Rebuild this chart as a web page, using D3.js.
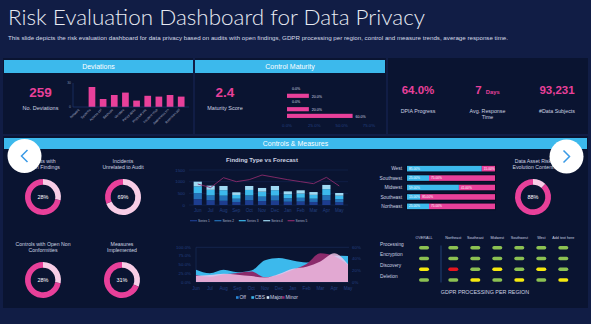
<!DOCTYPE html>
<html>
<head>
<meta charset="utf-8">
<title>Risk Evaluation Dashboard for Data Privacy</title>
<script src="https://cdnjs.cloudflare.com/ajax/libs/d3/7.8.5/d3.min.js"></script>
<style>
  body { margin: 0; background: #111d45; }
  svg { display: block; font-family: "Liberation Sans", Arial, sans-serif; }
</style>
</head>
<body>
<svg id="dash" width="591" height="324"></svg>
<script>
// ---- data ----
var deviationCats = ["Network", "Systems", "Access ctrl", "Backups", "Vendors", "Policy docs", "Physical sec", "Incident resp", "Awareness trn", "Retention pol"];
var deviationVals = [0, 25, 10, 15, 18, 8, 14, 13, 15, 13];
var deviationTicks = [0, 30];

var maturityVals = [0, 20, 0, 20, 60];
var maturityTicks = [0, 25, 50, 75];

var kpiValues = ["64.0%", "7", "93,231"];
var kpiUnits = ["", "Days", ""];
var kpiLabels = [["DPIA Progress"], ["Avg. Response", "Time"], ["#Data Subjects"]];

var months = ["Jun", "Jul", "Aug", "Sep", "Oct", "Nov", "Dec", "Jan", "Feb", "Mar", "Apr", "May"];
var series1 = [250, 200, 180, 130, 200, 170, 190, 140, 150, 130, 200, 120];
var series2 = [260, 210, 220, 140, 210, 190, 210, 150, 160, 140, 220, 130];
var series3 = [290, 240, 235, 160, 235, 210, 235, 170, 180, 165, 260, 150];
var series4 = [200, 180, 180, 115, 170, 160, 180, 125, 140, 120, 180, 115];
var forecast = [900, 745, 1170, 1000, 1085, 1285, 1185, 1085, 1000, 915, 1185, 815];
var findingTicks = [0, 500, 1000, 1500];

var areaOff = [10, 8, 12, 10, 12, 30, 35, 30, 28, 30, 40, 35];
var areaCBS = [35, 25, 35, 28, 33, 63, 69, 62, 56, 65, 76, 75];
var areaMinor = [20, 15, 22, 26, 30, 14, 20, 35, 52, 83, 75, 50];
var areaMajor = [18, 20, 24, 21, 17, 13, 23, 38, 44, 59, 83, 51];
var areaTicks = [0, 25, 50, 75, 100];
var areaRightTicks = [0, 20, 40, 60];

var regions = ["West", "Southwest", "Midwest", "Southeast", "Northeast"];
var regionShare = [85, 25, 59, 15, 25];

var gdprCols = ["OVERALL", "Northeast", "Southeast", "Midwest", "Southwest", "West", "Add text here"];
var gdprRows = ["Processing", "Encryption", "Discovery", "Deletion"];
var gdprStatus = [
  ["g", "g", "g", "g", "g", "g", "g"],
  ["g", "g", "g", "g", "g", "g", "g"],
  ["y", "r", "g", "y", "g", "y", "g"],
  ["g", "g", "y", "g", "y", "g", "y"]
];

var donutLabels = [["Audits with", "Open Findings"], ["Incidents", "Unrelated to Audit"],
  ["Controls with Open Non", "Conformities"], ["Measures", "Implemented"],
  ["Data Asset Risk", "Evolution Content"]];
var donutValues = [28, 69, 28, 31, 88];
var donutLightIsValue = [true, true, true, true, false];

// ---- colours ----
var pink = "#e8409a", lightPink = "#f8cde6", cyan = "#3cb9ec";
var panelFill = "#0a1431", textGrey = "#cdd3e1", dimBlue = "#223f80";
var barColors = ["#1d3d8f", "#2371b8", "#3cb9ec", "#9fdaf3"];
var statusColors = { g: "#8cc152", y: "#f5e90f", r: "#e5161f" };

var svg = d3.select("#dash");

// title
svg.append("text").attr("x", 8).attr("y", 25)
  .attr("font-family", "Lato, sans-serif").attr("font-weight", 300)
  .attr("font-size", 22).attr("fill", "#e8ebf3")
  .attr("textLength", 417).attr("lengthAdjust", "spacingAndGlyphs")
  .text("Risk Evaluation Dashboard for Data Privacy");
svg.append("text").attr("x", 8).attr("y", 40)
  .attr("font-size", 5.4).attr("fill", "#d6dbe8")
  .attr("textLength", 500).attr("lengthAdjust", "spacingAndGlyphs")
  .text("This slide depicts the risk evaluation  dashboard for data privacy based on audits with open findings, GDPR processing per region, control and measure trends, average  response time.");

// panels
function panel(x, y, w, h) {
  svg.append("rect").attr("x", x).attr("y", y).attr("width", w).attr("height", h).attr("fill", panelFill);
}
function header(x, y, w, h, label) {
  svg.append("rect").attr("x", x).attr("y", y).attr("width", w).attr("height", h).attr("fill", cyan);
  svg.append("text").attr("x", x + w / 2).attr("y", y + h / 2 + 2.4)
    .attr("text-anchor", "middle").attr("font-size", 7).attr("fill", "#fff").text(label);
}
panel(3, 58, 190, 76);
panel(195, 58, 191, 76);
panel(388, 58, 200, 76);
panel(3, 136, 585, 172);
header(4, 60, 189, 13, "Deviations");
header(195, 60, 190, 13, "Control Maturity");
header(4, 138, 583, 11, "Controls & Measures");

function bigNumber(x, y, txt, size) {
  return svg.append("text").attr("x", x).attr("y", y).attr("text-anchor", "middle")
    .attr("font-size", size).attr("font-weight", "bold").attr("fill", pink).text(txt);
}
function caption(x, y, lines, size) {
  lines.forEach(function (l, i) {
    svg.append("text").attr("x", x).attr("y", y + i * 6.2).attr("text-anchor", "middle")
      .attr("font-size", size || 5.5).attr("fill", textGrey).text(l);
  });
}

// ---- Deviations ----
bigNumber(40.5, 96.5, "259", 13.5);
caption(40.5, 110, ["No. Deviations"]);

var devX = d3.scaleBand().domain(deviationCats).range([73, 189]).padding(0.4);
var devY = d3.scaleLinear().domain([0, 30]).range([107, 83]);
svg.append("g").selectAll("rect").data(deviationVals).enter().append("rect")
  .attr("x", function (d, i) { return devX(deviationCats[i]); })
  .attr("y", function (d) { return devY(d); })
  .attr("width", devX.bandwidth())
  .attr("height", function (d) { return devY(0) - devY(d); })
  .attr("fill", pink);
svg.append("line").attr("x1", 73).attr("x2", 73).attr("y1", 83).attr("y2", 107).attr("stroke", "#1f3a78").attr("stroke-width", 0.6);
svg.append("line").attr("x1", 73).attr("x2", 189).attr("y1", 107).attr("y2", 107).attr("stroke", "#1f3a78").attr("stroke-width", 0.6);
svg.append("g").selectAll("text").data(deviationTicks).enter().append("text")
  .attr("x", 71).attr("y", function (d) { return devY(d) + 1.2; })
  .attr("text-anchor", "end").attr("font-size", 3.4).attr("fill", "#7f8bab").text(function (d) { return d; });
svg.append("g").selectAll("text").data(deviationCats).enter().append("text")
  .attr("transform", function (d) { return "translate(" + (devX(d) + devX.bandwidth() / 2 - 1) + ",110) rotate(-45)"; })
  .attr("text-anchor", "end").attr("font-size", 3.3).attr("fill", "#aab3c9").text(function (d) { return d; });

// ---- Control Maturity ----
bigNumber(225, 96.5, "2.4", 13.5);
caption(225, 109.5, ["Maturity Score"]);

var matY = d3.scaleBand().domain(d3.range(maturityVals.length)).range([84.5, 120.5]).padding(0.38);
var matX = d3.scaleLinear().domain([0, 75]).range([287, 369]);
var mat = svg.append("g").selectAll("g").data(maturityVals).enter().append("g");
mat.append("rect").attr("x", matX(0)).attr("y", function (d, i) { return matY(i); })
  .attr("width", function (d) { return matX(d) - matX(0); }).attr("height", matY.bandwidth())
  .attr("fill", pink);
mat.append("text").attr("x", function (d) { return matX(d) + (d ? 3 : 5); })
  .attr("y", function (d, i) { return matY(i) + matY.bandwidth() / 2 + (d ? 1.8 : 0.5); })
  .attr("font-size", 3.6).attr("fill", "#d8dce8")
  .text(function (d) { return d.toFixed(1) + "%"; });
svg.append("g").selectAll("text").data(maturityTicks).enter().append("text")
  .attr("x", function (d) { return matX(d); }).attr("y", 127).attr("text-anchor", "middle")
  .attr("font-size", 4.4).attr("fill", dimBlue).text(function (d) { return d.toFixed(1) + "%"; });

// ---- KPIs ----
var kpiX = d3.scalePoint().domain(d3.range(3)).range([418, 557]);
kpiValues.forEach(function (v, i) {
  var t = bigNumber(kpiX(i), 94, v, 11.5);
  if (kpiUnits[i]) {
    t.text(null);
    t.append("tspan").text(v);
    t.append("tspan").attr("font-size", 5.8).attr("dx", 4).text(kpiUnits[i]);
  }
  caption(kpiX(i), 113, kpiLabels[i], 5.3);
});

// ---- donuts ----
var pie = d3.pie().sort(null).value(function (d) { return d; });
var arc = d3.arc().innerRadius(12.3).outerRadius(18);
var donutPos = [[43, 197], [123, 197], [43, 280], [122, 280], [533, 197]];
donutValues.forEach(function (v, i) {
  var parts = donutLightIsValue[i] ? [v, 100 - v] : [100 - v, v];
  var g = svg.append("g").attr("transform", "translate(" + donutPos[i][0] + "," + donutPos[i][1] + ")");
  g.selectAll("path").data(pie(parts)).enter().append("path")
    .attr("d", arc).attr("fill", function (d, j) { return j === 0 ? lightPink : pink; });
  g.append("text").attr("y", 2).attr("text-anchor", "middle").attr("font-size", 5.5)
    .attr("fill", "#fff").text(v + "%");
  caption(donutPos[i][0], donutPos[i][1] - 34, donutLabels[i], 5.2);
});

// ---- Finding Type vs Forecast ----
svg.append("text").attr("x", 262).attr("y", 162).attr("text-anchor", "middle")
  .attr("font-size", 6).attr("font-weight", "bold").attr("fill", textGrey).text("Finding Type vs Forecast");

var fx = d3.scaleBand().domain(months).range([189, 348]).padding(0.36);
var fy = d3.scaleLinear().domain([0, 1500]).range([205, 170]);
svg.append("g").selectAll("line").data(findingTicks).enter().append("line")
  .attr("x1", 189).attr("x2", 348).attr("y1", function (d) { return fy(d); }).attr("y2", function (d) { return fy(d); })
  .attr("stroke", "#16295a").attr("stroke-width", 0.5);
svg.append("g").selectAll("text").data(findingTicks).enter().append("text")
  .attr("x", 185).attr("y", function (d) { return fy(d) + 1.5; }).attr("text-anchor", "end")
  .attr("font-size", 4.4).attr("fill", dimBlue).text(function (d) { return d; });

var stackRows = months.map(function (m, i) {
  return { month: m, s1: series1[i], s2: series2[i], s3: series3[i], s4: series4[i] };
});
var stacked = d3.stack().keys(["s1", "s2", "s3", "s4"])(stackRows);
svg.append("g").selectAll("g").data(stacked).enter().append("g")
  .attr("fill", function (d, i) { return barColors[i]; })
  .selectAll("rect").data(function (d) { return d; }).enter().append("rect")
  .attr("x", function (d) { return fx(d.data.month); })
  .attr("y", function (d) { return fy(d[1]); })
  .attr("height", function (d) { return fy(d[0]) - fy(d[1]); })
  .attr("width", fx.bandwidth());
svg.append("path").datum(forecast)
  .attr("d", d3.line().x(function (d, i) { return fx(months[i]) + fx.bandwidth() / 2; }).y(function (d) { return fy(d); }))
  .attr("fill", "none").attr("stroke", "#8b2a6b").attr("stroke-width", 0.9);
svg.append("g").selectAll("text").data(months).enter().append("text")
  .attr("x", function (d) { return fx(d) + fx.bandwidth() / 2; }).attr("y", 212)
  .attr("text-anchor", "middle").attr("font-size", 4.6).attr("fill", dimBlue).text(function (d) { return d; });

var fLegend = ["Series 1", "Series 2", "Series 3", "Series 4", "Series 5"];
var legColors = barColors.concat(["#8b2a6b"]);
var fl = svg.append("g").selectAll("g").data(fLegend).enter().append("g")
  .attr("transform", function (d, i) { return "translate(" + (190 + i * 24.4) + ",220.7)"; });
fl.append("line").attr("x1", 0).attr("x2", 7).attr("stroke", function (d, i) { return legColors[i]; }).attr("stroke-width", 1.2);
fl.append("text").attr("x", 8).attr("y", 1.1).attr("font-size", 3.2).attr("fill", "#aab3c9").text(function (d) { return d; });

// ---- trend areas ----
var ax = d3.scalePoint().domain(months).range([196, 348]);
var ay = d3.scaleLinear().domain([0, 100]).range([282, 247.3]);
var ayR = d3.scaleLinear().domain([0, 60]).range([282, 247.3]);
[100, 0].forEach(function (t) {
  svg.append("line").attr("x1", 196).attr("x2", 349).attr("y1", ay(t)).attr("y2", ay(t))
    .attr("stroke", "#1a2f60").attr("stroke-width", 0.6);
});
svg.append("line").attr("x1", 196).attr("x2", 196).attr("y1", ay(100)).attr("y2", ay(0)).attr("stroke", "#1a2f60").attr("stroke-width", 0.6);
function areaPath(vals) {
  return d3.area().curve(d3.curveMonotoneX)
    .x(function (d, i) { return ax(months[i]); }).y0(ay(0)).y1(function (d) { return ay(d); })(vals);
}
svg.append("path").attr("d", areaPath(areaOff)).attr("fill", "#2a86d6");
svg.append("path").attr("d", areaPath(areaCBS)).attr("fill", cyan);
svg.append("path").attr("d", areaPath(areaMinor)).attr("fill", "#8b2a6b");
svg.append("path").attr("d", areaPath(areaMajor)).attr("fill", "#f7c8ec").attr("fill-opacity", 0.8);

svg.append("g").selectAll("text").data(areaTicks).enter().append("text")
  .attr("x", 191).attr("y", function (d) { return ay(d) + 1.5; }).attr("text-anchor", "end")
  .attr("font-size", 4.4).attr("fill", dimBlue).text(function (d) { return d.toFixed(1) + "%"; });
svg.append("g").selectAll("text").data(areaRightTicks).enter().append("text")
  .attr("x", 352).attr("y", function (d) { return ayR(d) + 1.5; })
  .attr("font-size", 4.4).attr("fill", dimBlue).text(function (d) { return d + "%"; });
svg.append("g").selectAll("text").data(months).enter().append("text")
  .attr("x", function (d) { return ax(d); }).attr("y", 289.5).attr("text-anchor", "middle")
  .attr("font-size", 4.6).attr("fill", dimBlue).text(function (d) { return d; });

var aLegend = ["Off", "CBS", "Major", "Minor"];
var aLegColors = ["#2a86d6", cyan, "#d6ecf7", "#8b2a6b"];
var aLegX = d3.scalePoint().domain(aLegend).range([236, 282]);
var al = svg.append("g").selectAll("g").data(aLegend).enter().append("g")
  .attr("transform", function (d) { return "translate(" + aLegX(d) + ",299)"; });
al.append("rect").attr("x", 0).attr("y", -2.8).attr("width", 2.6).attr("height", 2.6).attr("fill", function (d, i) { return aLegColors[i]; });
al.append("text").attr("x", 3.4).attr("y", 0).attr("font-size", 5).attr("fill", textGrey).text(function (d) { return d; });

// ---- regional share bars ----
var ry = d3.scaleBand().domain(regions).range([162, 213]).padding(0.41);
var rx = d3.scaleLinear().domain([0, 100]).range([407, 495]);
var rg = svg.append("g").selectAll("g").data(regions).enter().append("g");
rg.append("rect").attr("x", rx(0) - 1).attr("y", function (d) { return ry(d) - 1; })
  .attr("width", rx(100) - rx(0) + 2).attr("height", ry.bandwidth() + 2).attr("fill", "#060d22");
rg.append("rect").attr("x", rx(0)).attr("y", function (d) { return ry(d); })
  .attr("width", function (d, i) { return rx(regionShare[i]) - rx(0); }).attr("height", ry.bandwidth()).attr("fill", cyan);
rg.append("rect").attr("x", function (d, i) { return rx(regionShare[i]); }).attr("y", function (d) { return ry(d); })
  .attr("width", function (d, i) { return rx(100) - rx(regionShare[i]); }).attr("height", ry.bandwidth()).attr("fill", pink);
rg.append("text").attr("x", rx(0) + 2).attr("y", function (d) { return ry(d) + ry.bandwidth() / 2 + 1.1; })
  .attr("font-size", 3.2).attr("fill", "#fff").text(function (d, i) { return regionShare[i].toFixed(2) + "%"; });
rg.append("text").attr("x", function (d, i) { return rx(regionShare[i]) + 2; }).attr("y", function (d) { return ry(d) + ry.bandwidth() / 2 + 1.1; })
  .attr("font-size", 3.2).attr("fill", "#fff").text(function (d, i) { return (100 - regionShare[i]).toFixed(2) + "%"; });
rg.append("text").attr("x", 402).attr("y", function (d) { return ry(d) + ry.bandwidth() / 2 + 1.7; })
  .attr("text-anchor", "end").attr("font-size", 4.8).attr("fill", textGrey).text(function (d) { return d; });

// ---- GDPR processing grid ----
var colX = d3.scaleLinear().domain([0, 5]).range([453.3, 563.3]);
function gx(i) { return i === 0 ? colX(-1.33) : colX(i - 1); }
var gy = d3.scaleLinear().domain([0, gdprRows.length - 1]).range([247.7, 280]);
svg.append("g").selectAll("text").data(gdprCols).enter().append("text")
  .attr("x", function (d, i) { return gx(i); }).attr("y", 238.5).attr("text-anchor", "middle")
  .attr("font-size", 3.7).attr("fill", textGrey).text(function (d) { return d; });
svg.append("g").selectAll("text").data(gdprRows).enter().append("text")
  .attr("x", 380).attr("y", function (d, i) { return gy(i) - 2; })
  .attr("font-size", 4.8).attr("fill", textGrey).text(function (d) { return d; });
svg.append("line").attr("x1", 441).attr("x2", 441).attr("y1", 245.5).attr("y2", 282.5)
  .attr("stroke", "#24467e").attr("stroke-width", 0.9);
gdprStatus.forEach(function (row, r) {
  svg.append("g").selectAll("rect").data(row).enter().append("rect")
    .attr("x", function (d, c) { return gx(c) - 5; }).attr("y", gy(r) - 1.7)
    .attr("width", 10).attr("height", 3.4).attr("rx", 1.7)
    .attr("fill", function (d) { return statusColors[d]; });
});
svg.append("text").attr("x", 485).attr("y", 293.5).attr("text-anchor", "middle")
  .attr("font-size", 5.4).attr("fill", textGrey).text("GDPR PROCESSING PER REGION");

// ---- slide navigation buttons ----
[[24.5, 156, -1], [566.5, 156.5, 1]].forEach(function (b) {
  svg.append("circle").attr("cx", b[0]).attr("cy", b[1]).attr("r", 17).attr("fill", "#fff");
  svg.append("path")
    .attr("d", "M" + (b[0] - 3 * b[2]) + "," + (b[1] - 6) + "L" + (b[0] + 3 * b[2]) + "," + b[1] + "L" + (b[0] - 3 * b[2]) + "," + (b[1] + 6))
    .attr("fill", "none").attr("stroke", "#3a9ae6").attr("stroke-width", 1.5);
});
</script>
</body>
</html>
